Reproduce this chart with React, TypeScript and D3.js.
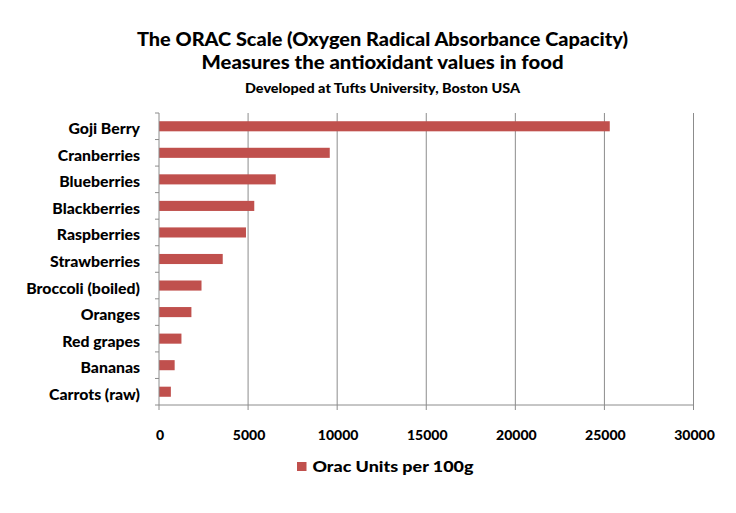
import React from "react";
import * as d3 from "d3";

const categories = [
  "Goji Berry",
  "Cranberries",
  "Blueberries",
  "Blackberries",
  "Raspberries",
  "Strawberries",
  "Broccoli (boiled)",
  "Oranges",
  "Red grapes",
  "Bananas",
  "Carrots (raw)",
];
const values = [25300, 9584, 6552, 5347, 4882, 3577, 2386, 1819, 1260, 879, 666];
const xTicks = [0, 5000, 10000, 15000, 20000, 25000, 30000];
const titleLines = [
  "The ORAC Scale (Oxygen Radical Absorbance Capacity)",
  "Measures the antioxidant values in food",
  "Developed at Tufts University, Boston USA",
];
const seriesName = "Orac Units per 100g";

const FONT = "Lato, 'Open Sans', sans-serif";
const BAR = "#C0504D";
const AXIS = "#8c8c8c";

export default function App() {
  const W = 736;
  const H = 513;
  const left = 159;
  const right = 693.5;
  const top = 113;
  const bottom = 405;

  const x = d3.scaleLinear().domain([0, 30000]).range([left, right]);
  const y = d3
    .scaleBand<string>()
    .domain(categories)
    .range([top, bottom])
    .paddingInner(0.62)
    .paddingOuter(0.31);
  const step = (bottom - top) / categories.length;

  return (
    <svg
      width={W}
      height={H}
      style={{ position: "absolute", left: 0, top: 0, background: "#fff" }}
      fontFamily={FONT}
    >
      <rect x={0} y={0} width={W} height={H} fill="#fff" />
      <text x={137} y={46} fontSize={19.5} fontWeight={900} textLength={491} lengthAdjust="spacingAndGlyphs">
        {titleLines[0]}
      </text>
      <text x={201.5} y={69} fontSize={19.5} fontWeight={900} textLength={362} lengthAdjust="spacingAndGlyphs">
        {titleLines[1]}
      </text>
      <text x={245} y={93} fontSize={13} fontWeight={900} textLength={275} lengthAdjust="spacingAndGlyphs">
        {titleLines[2]}
      </text>

      {/* gridlines */}
      {xTicks.slice(1).map((t) => (
        <line key={"g" + t} x1={x(t)} x2={x(t)} y1={top} y2={bottom} stroke={AXIS} strokeWidth={1} />
      ))}

      {/* bars */}
      {categories.map((c, i) => (
        <rect
          key={c}
          x={x(0)}
          y={y(c)!}
          width={x(values[i]) - x(0)}
          height={y.bandwidth()}
          fill={BAR}
        />
      ))}

      {/* left axis */}
      <line x1={left} x2={left} y1={top} y2={bottom} stroke={AXIS} />
      {d3.range(categories.length + 1).map((i) => (
        <line
          key={"yt" + i}
          x1={left - 4}
          x2={left}
          y1={top + i * step}
          y2={top + i * step}
          stroke={AXIS}
        />
      ))}
      {categories.map((c) => (
        <text
          key={"l" + c}
          x={140}
          y={y(c)! + y.bandwidth() / 2 + 8}
          textAnchor="end"
          fontSize={15.8}
          fontWeight={900}
        >
          {c}
        </text>
      ))}

      {/* bottom axis */}
      <line x1={left} x2={right} y1={bottom} y2={bottom} stroke={AXIS} />
      {xTicks.map((t) => (
        <g key={"xt" + t}>
          <line x1={x(t)} x2={x(t)} y1={bottom} y2={bottom + 5} stroke={AXIS} />
          <text x={x(t) + 1} y={439.5} textAnchor="middle" fontSize={14} fontWeight={900}>
            {t}
          </text>
        </g>
      ))}

      {/* legend */}
      <rect x={297} y={462} width={9.5} height={9} fill={BAR} />
      <text x={312.5} y={472.3} fontSize={15.5} fontWeight={900} textLength={161} lengthAdjust="spacingAndGlyphs">
        {seriesName}
      </text>
    </svg>
  );
}
